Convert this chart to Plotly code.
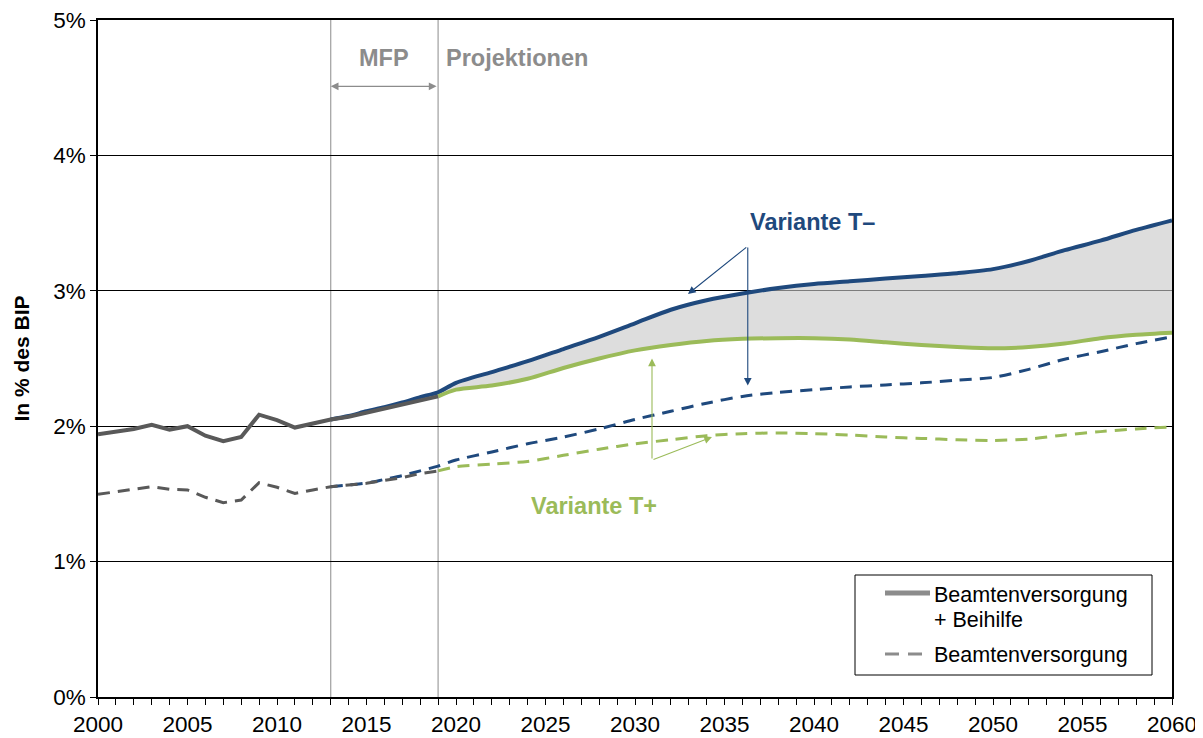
import plotly.graph_objects as go

# ---------------- data ----------------
hist_years = list(range(2000, 2020))
hist_total = [1.94, 1.96, 1.98, 2.01, 1.975, 2.00, 1.93, 1.89, 1.92, 2.085,
              2.045, 1.99, 2.02, 2.05, 2.07, 2.10, 2.125, 2.157, 2.19, 2.22]
hist_pension = [1.497, 1.514, 1.536, 1.553, 1.534, 1.529, 1.475, 1.435, 1.455, 1.583,
                1.549, 1.504, 1.529, 1.553, 1.566, 1.578, 1.60, 1.62, 1.65, 1.67]

mfp_years = [2013, 2014, 2015, 2016, 2017, 2018]
tminus_total_mfp = [2.05, 2.075, 2.11, 2.14, 2.175, 2.215]
tminus_pension_mfp = [1.553, 1.566, 1.58, 1.607, 1.635, 1.67]

proj_years = [2019, 2020, 2022, 2024, 2026, 2028, 2030, 2032, 2034, 2036, 2038,
              2040, 2042, 2044, 2046, 2048, 2050, 2052, 2054, 2056, 2058, 2060]
tminus_total = [2.25, 2.32, 2.40, 2.48, 2.57, 2.66, 2.76, 2.86, 2.93, 2.98, 3.02,
                3.05, 3.07, 3.09, 3.11, 3.13, 3.16, 3.22, 3.30, 3.37, 3.45, 3.52]
tplus_total = [2.22, 2.27, 2.30, 2.35, 2.43, 2.50, 2.56, 2.60, 2.63, 2.645, 2.65,
               2.65, 2.64, 2.62, 2.60, 2.585, 2.575, 2.585, 2.61, 2.65, 2.675, 2.69]
tminus_pension = [1.705, 1.75, 1.81, 1.87, 1.92, 1.98, 2.05, 2.11, 2.17, 2.22, 2.25,
                  2.27, 2.29, 2.305, 2.32, 2.34, 2.36, 2.42, 2.495, 2.55, 2.61, 2.66]
tplus_pension = [1.67, 1.70, 1.72, 1.74, 1.785, 1.83, 1.87, 1.90, 1.93, 1.945, 1.95,
                 1.945, 1.935, 1.92, 1.91, 1.90, 1.895, 1.905, 1.935, 1.96, 1.98, 1.995]

y_tickvals = [0, 1, 2, 3, 4, 5]
y_ticktext = ["0%", "1%", "2%", "3%", "4%", "5%"]
x_tickvals = list(range(2000, 2061, 5))

legend_total_lines = ["Beamtenversorgung", "+ Beihilfe"]
legend_pension = "Beamtenversorgung"

# ---------------- styles ----------------
BLUE = "#1F497D"
GREEN = "#9BBB59"
DARK = "#595959"
LEGGRAY = "#8C8C8C"
TXTGRAY = "#8C8C8C"
FONT = "Liberation Sans, Arial, sans-serif"
DASH = "12px,8px"

# page body has an 8px margin; plot area spans 1074 x 677 px
W, H = 1203, 730
ML, MT, PW, PH = 90, 12, 1074, 677


def px_x(p):  # reference-pixel x -> paper
    return (p - 98) / PW


def px_y(p):  # reference-pixel y -> paper
    return (697 - p) / PH


fig = go.Figure()

# shaded band between variants
fig.add_trace(go.Scatter(x=proj_years, y=tplus_total, mode="lines",
                         line=dict(width=0, shape="spline", smoothing=0.8),
                         showlegend=False, hoverinfo="skip"))
fig.add_trace(go.Scatter(x=proj_years, y=tminus_total, mode="lines",
                         line=dict(width=0, shape="spline", smoothing=0.8),
                         fill="tonexty", fillcolor="rgba(200,200,200,0.62)",
                         showlegend=False, hoverinfo="skip"))

# projection lines
fig.add_trace(go.Scatter(x=mfp_years + proj_years, y=tminus_pension_mfp + tminus_pension,
                         mode="lines", line=dict(color=BLUE, width=3, dash=DASH,
                                                 shape="spline", smoothing=0.8),
                         showlegend=False))
fig.add_trace(go.Scatter(x=proj_years, y=tplus_pension, mode="lines",
                         line=dict(color=GREEN, width=3, dash=DASH, shape="spline", smoothing=0.8),
                         showlegend=False))
fig.add_trace(go.Scatter(x=mfp_years + proj_years, y=tminus_total_mfp + tminus_total,
                         mode="lines", line=dict(color=BLUE, width=4, shape="spline", smoothing=0.8),
                         showlegend=False))
fig.add_trace(go.Scatter(x=proj_years, y=tplus_total, mode="lines",
                         line=dict(color=GREEN, width=4, shape="spline", smoothing=0.8),
                         showlegend=False))

# historical lines
fig.add_trace(go.Scatter(x=hist_years, y=hist_pension, mode="lines",
                         line=dict(color=DARK, width=3, dash=DASH), showlegend=False))
fig.add_trace(go.Scatter(x=hist_years, y=hist_total, mode="lines",
                         line=dict(color=DARK, width=4), showlegend=False))

# vertical separators
for xv in (2013, 2019):
    fig.add_shape(type="line", x0=xv, x1=xv, y0=0, y1=5, xref="x", yref="y",
                  line=dict(color="#A6A6A6", width=1.3), layer="below")

# legend box (drawn manually)
fig.add_shape(type="rect", xref="paper", yref="paper",
              x0=px_x(855), x1=px_x(1152), y0=px_y(675), y1=px_y(575),
              line=dict(color="black", width=1), fillcolor="white", layer="above")
fig.add_shape(type="line", xref="paper", yref="paper",
              x0=px_x(885), x1=px_x(930), y0=px_y(593), y1=px_y(593),
              line=dict(color=LEGGRAY, width=5), layer="above")
fig.add_shape(type="line", xref="paper", yref="paper",
              x0=px_x(885), x1=px_x(930), y0=px_y(654), y1=px_y(654),
              line=dict(color=LEGGRAY, width=3, dash="14px,9px"), layer="above")

ann = []
ann.append(dict(xref="paper", yref="paper", x=px_x(932), y=px_y(595),
                text=legend_total_lines[0], showarrow=False, xanchor="left", yanchor="middle",
                font=dict(size=21.5, family=FONT, color="black")))
ann.append(dict(xref="paper", yref="paper", x=px_x(932), y=px_y(620),
                text=legend_total_lines[1], showarrow=False, xanchor="left", yanchor="middle",
                font=dict(size=21.5, family=FONT, color="black")))
ann.append(dict(xref="paper", yref="paper", x=px_x(932), y=px_y(655),
                text=legend_pension, showarrow=False, xanchor="left", yanchor="middle",
                font=dict(size=21.5, family=FONT, color="black")))

ann.append(dict(x=2016.0, y=4.72, text="<b>MFP</b>", showarrow=False,
                font=dict(size=23.5, color=TXTGRAY, family=FONT)))
ann.append(dict(x=2023.4, y=4.72, text="<b>Projektionen</b>", showarrow=False,
                font=dict(size=23.5, color=TXTGRAY, family=FONT)))
ann.append(dict(x=2013, y=4.51, ax=2019, ay=4.51, axref="x", ayref="y", text="",
                showarrow=True, arrowhead=2, startarrowhead=2, arrowside="end+start",
                arrowsize=1.3, arrowwidth=1.2, arrowcolor=TXTGRAY))
ann.append(dict(x=2039.94, y=3.51, text="<b>Variante T–</b>", showarrow=False,
                font=dict(size=23.5, color=BLUE, family=FONT)))
ann.append(dict(x=2027.7, y=1.41, text="<b>Variante T+</b>", showarrow=False,
                font=dict(size=23.5, color=GREEN, family=FONT)))
# Variante T- arrows
for hx, hy in ((2032.96, 2.976), (2036.3, 2.30)):
    ann.append(dict(x=hx, y=hy, ax=2036.3, ay=3.33, axref="x", ayref="y", text="",
                    showarrow=True, arrowhead=2, arrowsize=1.4, arrowwidth=1.1,
                    arrowcolor=BLUE))
# Variante T+ arrows
for hx, hy in ((2030.95, 2.50), (2034.3, 1.92)):
    ann.append(dict(x=hx, y=hy, ax=2030.95, ay=1.75, axref="x", ayref="y", text="",
                    showarrow=True, arrowhead=2, arrowsize=1.4, arrowwidth=1.1,
                    arrowcolor=GREEN))

fig.update_layout(
    width=W, height=H,
    margin=dict(l=ML, r=W - ML - PW, t=MT, b=H - MT - PH, autoexpand=False),
    paper_bgcolor="white", plot_bgcolor="white",
    font=dict(family=FONT, size=21, color="black"),
    annotations=ann,
    showlegend=False,
    xaxis=dict(range=[2000, 2060], tickvals=x_tickvals, ticks="outside", ticklen=6,
               tickcolor="black", showgrid=False, zeroline=False, automargin=False,
               showline=True, linecolor="black", linewidth=1.5, mirror=True,
               tickfont=dict(size=22.5), ticklabeloverflow="allow",
               minor=dict(dtick=1, ticks="outside", ticklen=6, tickcolor="black", showgrid=False)),
    yaxis=dict(range=[0, 5], tickvals=y_tickvals, ticktext=y_ticktext, ticks="outside",
               ticklen=6, tickcolor="black", showgrid=True, gridcolor="black", gridwidth=1,
               zeroline=False, showline=True, linecolor="black", linewidth=1.5, mirror=True,
               tickfont=dict(size=22.5), automargin=False, ticklabeloverflow="allow",
               title=dict(text="<b>In % des BIP</b>", font=dict(size=21), standoff=18)),
)

fig.write_html("out.html")
